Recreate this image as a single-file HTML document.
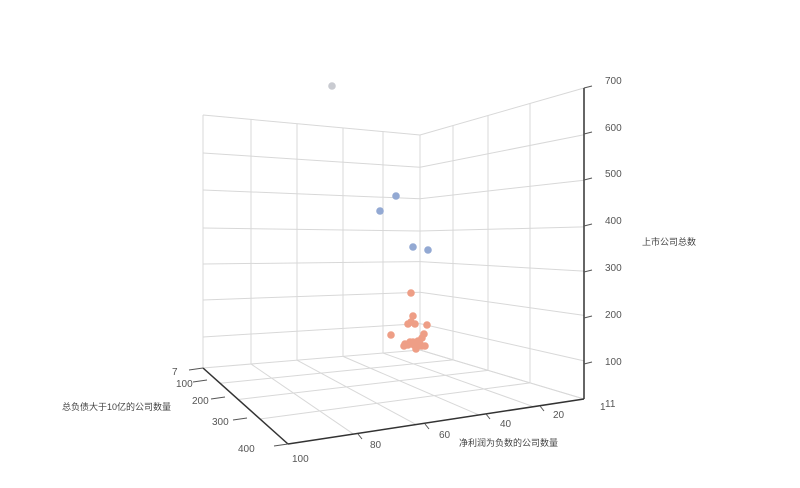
<!DOCTYPE html>
<html><head><meta charset="utf-8"><style>
html,body{margin:0;padding:0;background:#fff;}
svg{display:block;font-family:"Liberation Sans","Noto Sans CJK SC",sans-serif;}
</style></head><body>
<svg id="s" width="800" height="488" viewBox="0 0 800 488" xmlns="http://www.w3.org/2000/svg">
<g id="grid" stroke="#d8d8d8" stroke-width="1" fill="none"></g>
<g stroke="#333" stroke-width="1.5" fill="none">
<line x1="203" y1="368" x2="288" y2="444"/>
<line x1="288" y1="444" x2="584" y2="399"/>
<line x1="584" y1="88" x2="584" y2="399"/>
</g>
<g id="ticks" stroke="#555" stroke-width="1"></g>
<g font-size="10" fill="#555">
<text x="172" y="375">7</text>
<text x="176" y="387">100</text>
<text x="192" y="404">200</text>
<text x="212" y="425">300</text>
<text x="238" y="452">400</text>
<text x="292" y="462">100</text>
<text x="370" y="448">80</text>
<text x="439" y="438">60</text>
<text x="500" y="427">40</text>
<text x="553" y="418">20</text>
<text x="600" y="410">1</text>
<text x="605" y="407">11</text>
<text x="605" y="84">700</text>
<text x="605" y="131">600</text>
<text x="605" y="177">500</text>
<text x="605" y="224">400</text>
<text x="605" y="271">300</text>
<text x="605" y="318">200</text>
<text x="605" y="365">100</text>
</g>
<g font-size="9" fill="#444">
<text x="62" y="410">总负债大于10亿的公司数量</text>
<text x="459" y="446">净利润为负数的公司数量</text>
<text x="642" y="245">上市公司总数</text>
</g>
<g id="pts"></g>
</svg>
<script>
(function(){
var NS="http://www.w3.org/2000/svg";
function L(g,a,b){var l=document.createElementNS(NS,"line");l.setAttribute("x1",a[0]);l.setAttribute("y1",a[1]);l.setAttribute("x2",b[0]);l.setAttribute("y2",b[1]);g.appendChild(l);}
function lerp(a,b,t){return [a[0]+(b[0]-a[0])*t,a[1]+(b[1]-a[1])*t];}
var g=document.getElementById("grid");
var LT=[203,115],BT=[420,135],BB=[420,350],LB=[203,368],RT=[584,88],RB=[584,399],F=[288,444];
var lz=[368,337,300,264,228,190,153,115];
for(var i=0;i<8;i++){var t=(368-lz[i])/(368-115);L(g,[203,lz[i]],lerp(BB,BT,t));}
var lx=[203,251,297,343,383,420];
for(var i=0;i<6;i++){var t=(lx[i]-203)/217;L(g,lerp(LT,BT,t),lerp(LB,BB,t));}
for(var i=0;i<8;i++){var t=(368-lz[i])/(368-115);L(g,lerp(BB,BT,t),lerp(RB,RT,t));}
var rx=[420,453,488,530,584];
for(var i=0;i<5;i++){var t=(rx[i]-420)/164;L(g,lerp(BT,RT,t),lerp(BB,RB,t));}
for(var i=1;i<5;i++){var t=(rx[i]-420)/164;L(g,lerp(BB,RB,t),lerp(LB,F,t));}
for(var i=1;i<6;i++){var t=(lx[i]-203)/217;L(g,lerp(LB,BB,t),lerp(F,RB,t));}
var tk=document.getElementById("ticks");
[[203,368],[207,380],[225,397],[247,418],[288,444]].forEach(function(p){L(tk,[p[0]-14,p[1]+2],p);});
[[358,434],[425,424],[486,414],[540,406]].forEach(function(p){L(tk,p,[p[0]+4,p[1]+5]);});
[88,134,180,226,272,318,364].forEach(function(y){L(tk,[584,y],[592,y-2]);});
var P=document.getElementById("pts");
function C(x,y,c){var e=document.createElementNS(NS,"circle");e.setAttribute("cx",x);e.setAttribute("cy",y);e.setAttribute("r",3.8);e.setAttribute("fill",c);P.appendChild(e);}
C(332,86,"#c9cbd1");
[[396,196],[380,211],[413,247],[428,250]].forEach(function(p){C(p[0],p[1],"#93a9d3");});
[[411,293],[413,316],[411,322],[408,324],[415,324],[427,325],[391,335],[424,334],[422,338],[405,344],[408,345],[413,342],[418,341],[416,349],[422,346],[425,346],[418,343],[410,342],[404,346],[420,344],[414,345]].forEach(function(p){C(p[0],p[1],"#ee9e86");});
})();
</script>
</body></html>
